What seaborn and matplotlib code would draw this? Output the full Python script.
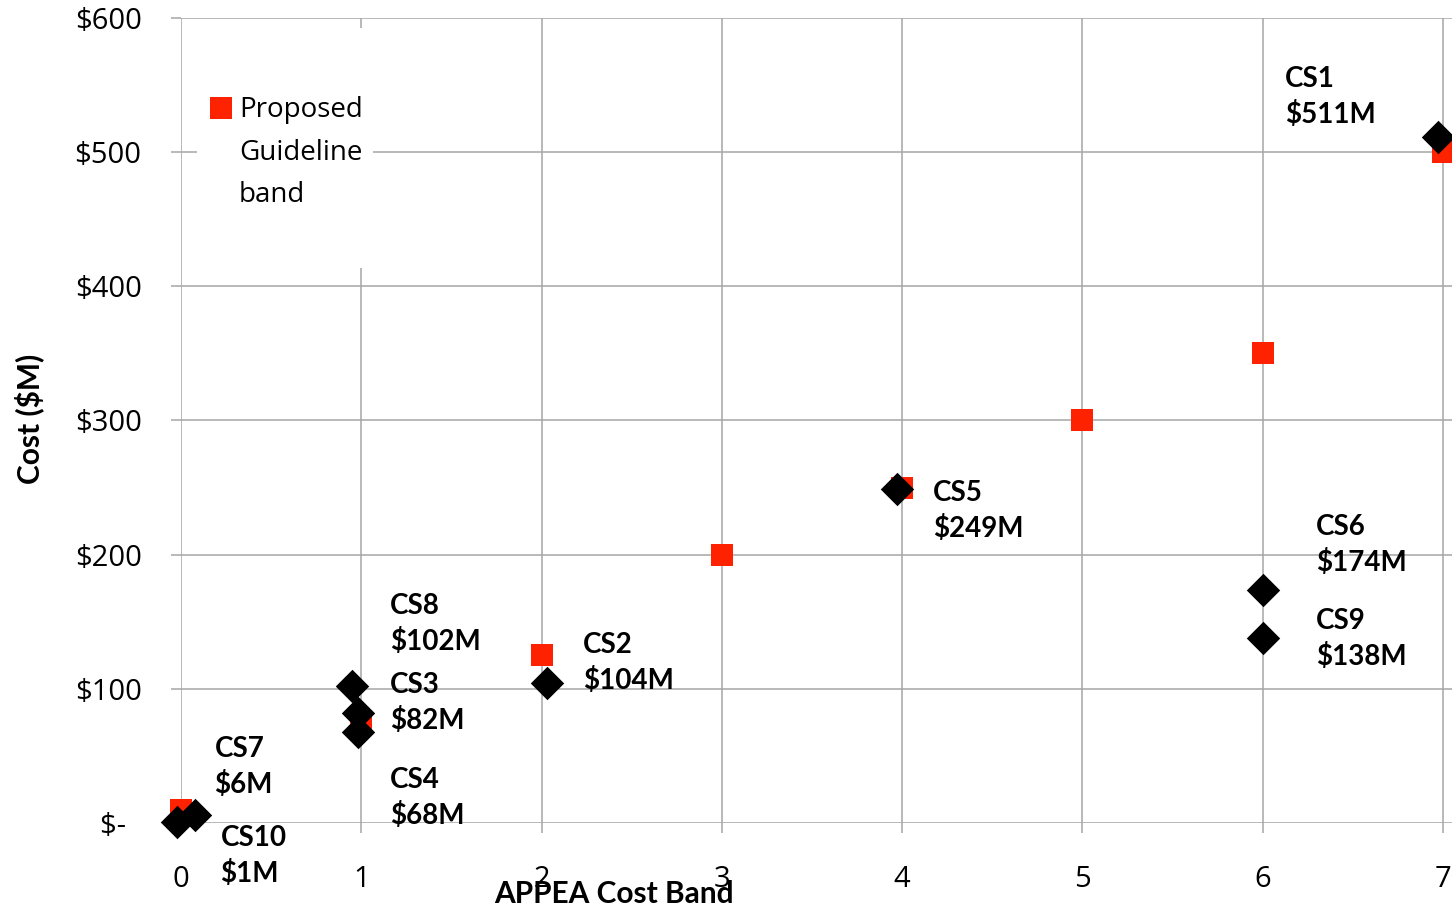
import matplotlib
matplotlib.use("Agg")
import matplotlib.pyplot as plt
from matplotlib.patches import Rectangle
import pandas as pd
import seaborn as sns

# Proposed guideline cost for each APPEA cost band ($M)
band = [0, 1, 2, 3, 4, 5, 6, 7]
band_cost = [10, 75, 125, 200, 250, 300, 350, 500]

# Case studies: assigned cost band and cost ($M)
case_names = ["CS1", "CS2", "CS3", "CS4", "CS5", "CS6", "CS7", "CS8", "CS9", "CS10"]
case_band = [6.97, 2.03, 0.98, 0.98, 3.97, 6.0, 0.08, 0.95, 6.0, -0.02]
case_cost = [511, 104, 82, 68, 249, 174, 6, 102, 138, 1]

x_ticks = [0, 1, 2, 3, 4, 5, 6, 7]
x_tick_labels = ["0", "1", "2", "3", "4", "5", "6", "7"]
y_ticks = [0, 100, 200, 300, 400, 500, 600]
y_tick_labels = ["$-  ", "$100", "$200", "$300", "$400", "$500", "$600"]

# Label placement in pixels: (right of point, down to first baseline)
label_offsets = {
    "CS1": (-153, -50), "CS2": (36, -30), "CS3": (32, -20), "CS4": (32, 56),
    "CS5": (36, 12), "CS6": (53, -55), "CS7": (19, -58), "CS8": (38, -72),
    "CS9": (53, -9), "CS10": (43, 24),
}
LINE_GAP = 36

GRID = "#a6a6a6"
RED = "#ff2200"
BOLD_FONT = ["Lato", "DejaVu Sans"]

sns.set_theme(style="whitegrid")
plt.rcParams["font.family"] = ["Open Sans", "DejaVu Sans"]

W, H = 1452, 911
fig = plt.figure(figsize=(W / 100, H / 100), dpi=100)
ax = fig.add_axes([181 / W, (H - 823) / H, 1271 / W, 805 / H])

df_band = pd.DataFrame({"band": band, "cost": band_cost})
df_case = pd.DataFrame({"band": case_band, "cost": case_cost, "name": case_names})

sns.scatterplot(data=df_band, x="band", y="cost", marker="s", s=250, color=RED,
                linewidth=0, ax=ax, zorder=3, clip_on=False, legend=False)
sns.scatterplot(data=df_case, x="band", y="cost", marker="D", s=290, color="black",
                linewidth=0, ax=ax, zorder=4, clip_on=False, legend=False)

ax.set_xlim(0, 1271 / ((1443 - 181) / 7))
ax.set_ylim(0, 600)
ax.set_xticks(x_ticks)
ax.set_xticklabels(x_tick_labels)
ax.set_yticks(y_ticks)
ax.set_yticklabels(y_tick_labels)

ax.grid(True, color=GRID, linewidth=1.1)
ax.set_axisbelow(True)
for sp in ax.spines.values():
    sp.set_visible(False)
ax.tick_params(axis="both", which="major", direction="out", length=7.4, width=1.1,
               color=GRID, labelsize=21, labelcolor="black", bottom=True, left=True)
ax.tick_params(axis="x", pad=23)
ax.tick_params(axis="y", pad=21)

# Data labels: case name over its cost
for name, xv, yv in zip(case_names, case_band, case_cost):
    dx, dy = label_offsets[name]
    for txt, off in ((name, dy), (f"${yv}M", dy + LINE_GAP)):
        ax.annotate(txt, xy=(xv, yv), xytext=(dx, -off), textcoords="offset pixels",
                    ha="left", va="baseline", fontsize=20, fontweight="bold",
                    family=BOLD_FONT, color="black", zorder=5,
                    annotation_clip=False)

# Legend box
ax.add_patch(Rectangle((16 / 1271, (823 - 268) / 805), (373 - 197) / 1271, 240 / 805,
                       transform=ax.transAxes, facecolor="white", edgecolor="none",
                       zorder=2))
ax.scatter([(221 - 181) / 1271], [(823 - 107.5) / 805], transform=ax.transAxes,
           marker="s", s=250, color=RED, linewidth=0, zorder=3, clip_on=False)
ax.text((239 - 181) / 1271, (823 - 202) / 805, "Proposed\nGuideline\nband",
        transform=ax.transAxes, ha="left", va="baseline", fontsize=20,
        linespacing=1.69, color="black", zorder=3)

ax.set_xlabel("APPEA Cost Band", fontsize=21.5, fontweight="bold",
              family=BOLD_FONT, color="black")
ax.xaxis.set_label_coords((614 - 181) / 1271, (823 - 880) / 805)
ax.set_ylabel("Cost ($M)", fontsize=21.5, fontweight="bold",
              family=BOLD_FONT, color="black")
ax.yaxis.set_label_coords((44 - 181) / 1271, (823 - 419) / 805)

fig.savefig("out.png", dpi=100)
